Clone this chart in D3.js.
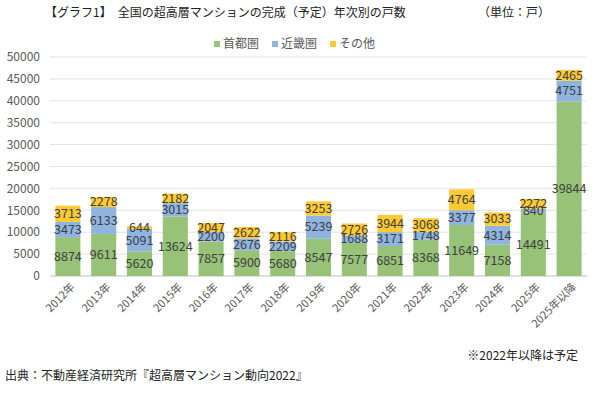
<!DOCTYPE html>
<html>
<head>
<meta charset="utf-8">
<script src="https://cdn.jsdelivr.net/npm/d3@7"></script>
<style>
  body { margin: 0; background: #fff; }
  svg { display: block; font-family: "Noto Sans CJK JP", sans-serif; }
</style>
</head>
<body>
<div id="chart"></div>
<script>
const width = 600,
	height = 393

const years = ['2012年', '2013年', '2014年', '2015年', '2016年', '2017年', '2018年', '2019年',
	'2020年', '2021年', '2022年', '2023年', '2024年', '2025年', '2025年以降']
const shutoken = [8874, 9611, 5620, 13624, 7857, 5900, 5680, 8547, 7577, 6851, 8368, 11649, 7158, 14491, 39844]
const kinki = [3473, 6133, 5091, 3015, 2200, 2676, 2209, 5239, 1688, 3171, 1748, 3377, 4314, 840, 4751]
const sonota = [3713, 2278, 644, 2182, 2047, 2622, 2116, 3253, 2726, 3944, 3068, 4764, 3033, 2272, 2465]
const seriesNames = ['首都圏', '近畿圏', 'その他']
const yTicks = [0, 5000, 10000, 15000, 20000, 25000, 30000, 35000, 40000, 45000, 50000]

const colors = ['#97c278', '#8fb4e0', '#ffc933']

const margin = { top: 57, right: 13, bottom: 117, left: 50 }

const svg = d3.select('#chart').append('svg').attr('width', width).attr('height', height)

const rows = years.map((y, i) => ({ year: y, '首都圏': shutoken[i], '近畿圏': kinki[i], 'その他': sonota[i] }))
const stacked = d3.stack().keys(seriesNames)(rows)

const x = d3.scaleBand()
	.domain(years)
	.range([margin.left, width - margin.right])
	.paddingInner(0.3)
	.paddingOuter(0.15)

const y = d3.scaleLinear()
	.domain([0, 50000])
	.range([height - margin.bottom, margin.top])

// gridlines
svg.append('g')
	.selectAll('line')
	.data(yTicks)
	.join('line')
	.attr('x1', margin.left)
	.attr('x2', width - margin.right)
	.attr('y1', d => y(d))
	.attr('y2', d => y(d))
	.attr('stroke', d => d === 0 ? '#bfbfbf' : '#e3e3e3')
	.attr('stroke-width', 1)

// y labels
svg.append('g')
	.selectAll('text')
	.data(yTicks)
	.join('text')
	.attr('x', 40)
	.attr('y', d => y(d))
	.attr('dy', '0.35em')
	.attr('text-anchor', 'end')
	.style('font-size', '12px')
	.style('fill', '#595959')
	.text(d => d)

// bars
const layer = svg.append('g')
	.selectAll('g')
	.data(stacked)
	.join('g')
	.attr('fill', (d, i) => colors[i])

layer.selectAll('rect')
	.data(d => d)
	.join('rect')
	.attr('x', d => x(d.data.year))
	.attr('width', x.bandwidth())
	.attr('y', d => y(d[1]))
	.attr('height', d => y(d[0]) - y(d[1]))

// value labels
const labels = svg.append('g')
	.selectAll('g')
	.data(stacked)
	.join('g')

labels.selectAll('text')
	.data(d => d.map(v => ({ v, key: d.key })))
	.join('text')
	.attr('x', d => x(d.v.data.year) + x.bandwidth() / 2)
	.attr('y', d => (y(d.v[0]) + y(d.v[1])) / 2)
	.attr('dy', '0.35em')
	.attr('text-anchor', 'middle')
	.style('font-size', '12.5px')
	.style('fill', '#404040')
	.text(d => d.v.data[d.key])

// x labels
svg.append('g')
	.selectAll('text')
	.data(years)
	.join('text')
	.attr('transform', d => `translate(${x(d) + x.bandwidth() / 2 + 5},${height - margin.bottom + 9}) rotate(-45)`)
	.attr('text-anchor', 'end')
	.attr('dy', '0.35em')
	.style('font-size', '11px')
	.style('fill', '#595959')
	.text(d => d)

// title
svg.append('text')
	.attr('x', 45)
	.attr('y', 17)
	.style('font-size', '12px')
	.style('fill', '#222')
	.text('【グラフ1】　全国の超高層マンションの完成（予定）年次別の戸数')

svg.append('text')
	.attr('x', 478)
	.attr('y', 17)
	.style('font-size', '12px')
	.style('fill', '#222')
	.text('（単位：戸）')

// legend
const legendX = [214, 272, 330]
const legend = svg.append('g')
	.selectAll('g')
	.data(seriesNames)
	.join('g')
	.attr('transform', (d, i) => `translate(${legendX[i]},44)`)

legend.append('rect')
	.attr('x', 0)
	.attr('y', -3)
	.attr('width', 6)
	.attr('height', 6)
	.attr('fill', (d, i) => colors[i])

legend.append('text')
	.attr('x', 9)
	.attr('dy', '0.35em')
	.style('font-size', '12px')
	.style('fill', '#595959')
	.text(d => d)

// footnotes
svg.append('text')
	.attr('x', 578)
	.attr('y', 360)
	.attr('text-anchor', 'end')
	.style('font-size', '12px')
	.style('fill', '#222')
	.text('※2022年以降は予定')

svg.append('text')
	.attr('x', 5)
	.attr('y', 380)
	.style('font-size', '12px')
	.style('fill', '#222')
	.text('出典：不動産経済研究所『超高層マンション動向2022』')
</script>
</body>
</html>
